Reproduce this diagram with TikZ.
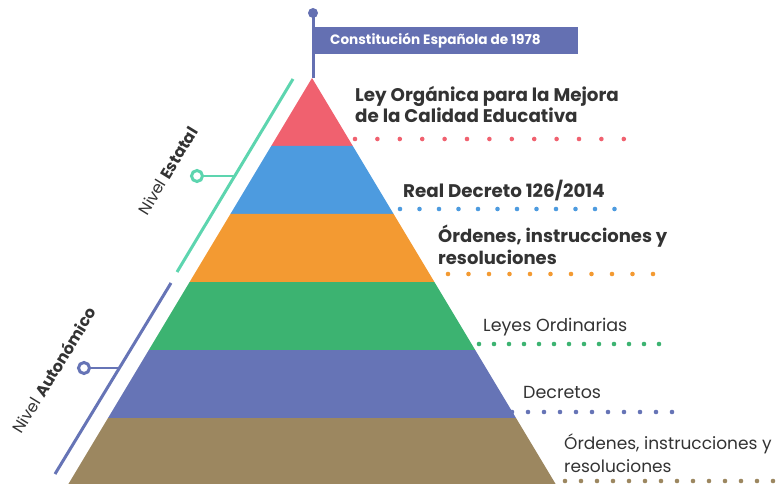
\documentclass[tikz,border=0pt]{standalone}
\usepackage{fontspec}
\setmainfont{Poppins}
\definecolor{cred}{HTML}{F0616F}
\definecolor{cblue}{HTML}{4D9BDF}
\definecolor{corange}{HTML}{F39A32}
\definecolor{cgreen}{HTML}{3CB371}
\definecolor{cpurple}{HTML}{6674B6}
\definecolor{cbrown}{HTML}{9C8760}
\definecolor{cteal}{HTML}{5DD5AF}
\definecolor{cbanner}{HTML}{6470B2}
\definecolor{ctext}{HTML}{333333}
\tikzset{
  boldlbl/.style={anchor=base west, inner sep=0pt, text=ctext, font=\fontsize{18.3}{21}\selectfont\bfseries, align=left},
  reglbl/.style={anchor=base west, inner sep=0pt, text=ctext, font=\fontsize{17.5}{22.5}\selectfont, align=left},
  dotrow/.style={line width=4.6pt, line cap=round, dash pattern=on 0pt off #1},
  nivel/.style={rotate=58.5, inner sep=0pt, text=ctext, font=\fontsize{16}{18}\selectfont},
  ring/.style={line width=3pt, fill=white}
}
\begin{document}
\begin{tikzpicture}[x=1pt,y=-1pt]
\useasboundingbox (0,0) rectangle (777,484);
\begin{scope}
\clip (0,0) rectangle (777,484);
% pyramid layers: apex (312,78), half-width = 0.6*(y-78)
\fill[cred]    (312,78) -- (271.2,146) -- (352.8,146) -- cycle;
\fill[cblue]   (271.2,146) -- (230.4,214) -- (393.6,214) -- (352.8,146) -- cycle;
\fill[corange] (230.4,214) -- (189.6,282) -- (434.4,282) -- (393.6,214) -- cycle;
\fill[cgreen]  (189.6,282) -- (148.8,350) -- (475.2,350) -- (434.4,282) -- cycle;
\fill[cpurple] (148.8,350) -- (108,418) -- (516,418) -- (475.2,350) -- cycle;
\fill[cbrown]  (108,418) -- (67.2,486) -- (556.8,486) -- (516,418) -- cycle;
% dotted rows
\draw[cred, dotrow=22.4pt]    (355,139) -- (626,139);
\draw[cblue, dotrow=19.5pt]   (400,209) -- (616,209);
\draw[corange, dotrow=20.5pt] (448,274) -- (654,274);
\draw[cgreen, dotrow=15pt]    (479,344) -- (661,344);
\draw[cpurple, dotrow=16pt]   (512,412) -- (674,412);
\draw[cbrown, dotrow=16pt]    (565,481) -- (790,481);
\end{scope}
% flag
\draw[cbanner, line width=3pt] (313,13) -- (313,78);
\fill[cbanner] (313,13) circle (5);
\node[fill=cbanner, minimum width=265pt, minimum height=27pt, anchor=north west, inner sep=0pt] (banner) at (313,27) {};
\node[anchor=west, text=white, font=\fontsize{13.6}{15}\selectfont\bfseries, inner sep=0pt] (constit) at (330,40.5) {Constitución Española de 1978};
% labels (base anchor = baseline of last line)
\node[boldlbl] (lomce) at (355,123) {Ley Orgánica para la Mejora\\de la Calidad Educativa};
\node[boldlbl] (rd) at (403,198) {Real Decreto 126/2014};
\node[boldlbl, font=\fontsize{18}{21.5}\selectfont\bfseries] (ord1) at (438,264) {Órdenes, instrucciones y\\resoluciones};
\node[reglbl] (leyes) at (483,331) {Leyes Ordinarias};
\node[reglbl] (decr) at (523,398) {Decretos};
\node[reglbl, font=\fontsize{17}{22.5}\selectfont] (ord2) at (564,472) {Órdenes, instrucciones y\\resoluciones};
% Nivel Estatal
\coordinate (e1) at (293,79);
\coordinate (e2) at (177,272);
\draw[cteal, line width=3pt] (e1) -- (e2);
\coordinate (ec) at (197,176);
\coordinate (ej) at (234.7,176);
\draw[cteal, line width=2.2pt] (ec) -- (ej);
\draw[cteal, ring] (ec) circle (5.5);
\node[nivel] (estatal) at (168,171) {Nivel \textbf{Estatal}};
% Nivel Autonomico
\coordinate (a1) at (171,283);
\coordinate (a2) at (55,474);
\draw[cpurple, line width=3pt] (a1) -- (a2);
\coordinate (ac) at (84,368);
\coordinate (aj) at (119.4,368);
\draw[cpurple, line width=2.2pt] (ac) -- (aj);
\draw[cpurple, ring] (ac) circle (5.5);
\node[nivel] (auton) at (54,370) {Nivel \textbf{Autonómico}};
\end{tikzpicture}
\end{document}
